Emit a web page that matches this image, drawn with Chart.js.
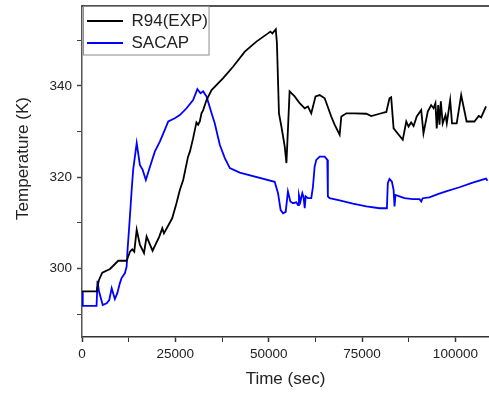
<!DOCTYPE html>
<html>
<head>
<meta charset="utf-8">
<script src="https://cdn.jsdelivr.net/npm/chart.js@4.4.1/dist/chart.umd.min.js"></script>
<style>
  html, body { margin: 0; padding: 0; background: #fff; }
  #wrap { width: 489px; height: 394px; }
</style>
</head>
<body>
<div id="wrap"><canvas id="myChart" width="489" height="394"></canvas></div>
<script>
// R94(EXP) measured temperature
var expTime = [0, 3900, 4550, 5430, 7500, 9700, 11950, 12850, 13450, 14000, 14650, 15500, 16600, 17300, 18900, 20700, 21500, 21950, 24150, 25300,
  26200, 27100, 28400, 28900, 29750, 30650, 31100, 31550, 32000, 32450, 33350, 34700, 37800, 40450, 43600, 46700, 49800, 50450, 51000, 51900,
  52200, 52750, 53400, 54300, 54750, 55150, 55600, 56950, 58300, 59650, 60500, 61400, 62550, 63650, 65000, 66750, 67650, 69000, 69450, 70800,
  73000, 76150, 77450, 79700, 81500, 82350, 82800, 83450, 85900, 86850, 87450, 88150, 88800, 89650, 90850, 91450, 92600, 93500, 94150, 94650,
  95000, 95400, 95750, 96100, 96600, 97350, 97700, 98600, 99100, 100350, 101550, 103000, 105100, 106250, 106900, 108200]
var expTemp = [295.0, 295.0, 297.5, 299.1, 299.9, 301.7, 301.7, 303.7, 304.2, 303.7, 308.5, 305.2, 303.4, 307.0, 303.9, 307.0, 308.8, 307.7, 311.0, 314.3,
  317.2, 319.4, 324.5, 325.6, 328.5, 332.0, 331.5, 332.2, 334.0, 334.7, 336.9, 339.1, 341.7, 344.2, 347.5, 349.7, 351.5, 351.9, 351.5, 352.4,
  349.4, 334.0, 331.1, 326.7, 323.1, 330.4, 338.8, 337.7, 336.2, 335.1, 335.5, 334.0, 337.7, 338.0, 337.3, 333.3, 331.5, 329.3, 333.3, 334.0,
  334.0, 333.9, 333.4, 333.9, 334.3, 337.3, 337.5, 330.7, 328.2, 332.2, 331.1, 332.0, 331.2, 333.3, 334.7, 329.6, 334.4, 335.8, 335.1, 336.2,
  330.7, 335.8, 331.5, 336.6, 331.8, 333.6, 331.8, 336.9, 331.8, 331.8, 338.0, 332.2, 332.2, 333.4, 333.1, 335.5]

// SACAP simulation
var sacapTime = [0, 200, 3900, 4150, 4550, 5550, 6600, 7300, 7950, 8800, 9450, 10150, 10600, 11500, 11950, 12200, 12650, 13300, 13700, 14650,
  15500, 16250, 17100, 18200, 19500, 20850, 22200, 23100, 24850, 26200, 28000, 29750, 30900, 31750, 32450, 33350, 34700, 35550, 36900, 38250,
  39600, 42250, 51600, 52500, 53200, 53850, 54550, 55150, 55800, 56500, 57400, 57850, 58100, 58500, 59000, 59350, 59650, 59900, 60500, 61400,
  61850, 62300, 62750, 63650, 65000, 65700, 65850, 66300, 69000, 72550, 76150, 79700, 81650, 81900, 82350, 83000, 83450, 83700, 83950, 85050,
  86350, 88600, 90400, 90850, 91250, 93050, 95300, 97500, 101100, 104650, 108200, 108600]
var sacapTemp = [295.0, 291.8, 291.8, 297.3, 295.0, 292.0, 292.4, 293.1, 295.7, 293.3, 294.6, 296.8, 297.9, 299.0, 300.4, 304.1, 309.2, 317.2, 321.6, 327.5,
  322.7, 321.6, 319.4, 322.3, 325.6, 327.8, 330.4, 332.2, 332.9, 333.6, 335.1, 336.9, 339.3, 338.4, 338.8, 337.7, 334.0, 331.8, 327.1, 324.2,
  322.0, 321.0, 319.0, 316.5, 312.8, 312.1, 312.4, 316.9, 314.7, 314.3, 314.5, 313.9, 316.1, 314.7, 316.5, 315.6, 313.2, 315.8, 315.4, 315.4,
  317.9, 322.3, 323.8, 324.5, 324.5, 323.8, 315.8, 315.4, 314.9, 314.2, 313.6, 313.2, 313.2, 318.7, 319.6, 319.0, 317.2, 313.6, 316.1, 315.8,
  315.4, 315.2, 315.2, 314.7, 315.4, 315.6, 316.3, 316.9, 317.8, 318.8, 319.7, 319.2]

var seriesNames = ['R94(EXP)', 'SACAP']
// tick positions (labelled ones are listed separately)
var xTicks = [0, 12500, 25000, 37500, 50000, 62500, 75000, 87500, 100000]
var xLabels = [0, 25000, 50000, 75000, 100000]
var yTicks = [290, 300, 310, 320, 330, 340, 350]
var yLabels = [300, 320, 340]
var xTitle = 'Time (sec)'
var yTitle = 'Temperature (K)'

var FONT = "'Liberation Sans', Arial, sans-serif"

function pares(xs, ys){
    return xs.map(function(x, i){ return {x: x, y: ys[i]} })
}

// legend sits inside the plot, just below the top frame
var legendPos = {
    id: 'legendPos',
    afterLayout: function(chart){
        var lg = chart.legend
        if (!lg) return
        var dy = chart.chartArea.top + 1.5 - lg.top
        lg.top += dy
        lg.bottom += dy
        if (lg.legendHitBoxes) lg.legendHitBoxes.forEach(function(h){ h.top += dy })
    }
}

// top frame line, legend border and y title
var extras = {
    id: 'extras',
    afterDraw: function(chart){
        var ctx = chart.ctx
        var a = chart.chartArea
        ctx.save()
        ctx.strokeStyle = '#1a1a1a'
        ctx.lineWidth = 1.5
        ctx.beginPath()
        ctx.moveTo(a.left, a.top)
        ctx.lineTo(a.right, a.top)
        ctx.stroke()

        var lg = chart.legend
        if (lg && lg.legendHitBoxes && lg.legendHitBoxes.length){
            var hb = lg.legendHitBoxes
            var right = 0
            hb.forEach(function(h){ right = Math.max(right, h.left + h.width) })
            var last = hb[hb.length - 1]
            var bottom = last.top + last.height + 3
            ctx.strokeStyle = '#8c8c8c'
            ctx.lineWidth = 1
            ctx.strokeRect(a.left + 1.5, a.top + 0.5, right + 1 - a.left - 1.5, bottom - a.top)
        }

        ctx.fillStyle = '#222'
        ctx.font = '17px ' + FONT
        ctx.textAlign = 'center'
        ctx.textBaseline = 'middle'
        ctx.translate(23.5, 158.5)
        ctx.rotate(-Math.PI / 2)
        ctx.fillText(yTitle, 0, 0)
        ctx.restore()
    }
}

function inicio(){
    var ctx = document.getElementById('myChart').getContext('2d')

    const myChart = new Chart(ctx, {
        type: 'line',
        data: {
            datasets: [{
                label: seriesNames[0],
                data: pares(expTime, expTemp),
                borderColor: '#000000',
                backgroundColor: '#000000',
                borderWidth: 1.8,
                pointRadius: 0,
                fill: false,
                tension: 0
            }, {
                label: seriesNames[1],
                data: pares(sacapTime, sacapTemp),
                borderColor: '#0000ff',
                backgroundColor: '#0000ff',
                borderWidth: 1.8,
                pointRadius: 0,
                fill: false,
                tension: 0
            }]
        },
        options: {
            responsive: false,
            animation: false,
            layout: { padding: { top: 6, right: 0, bottom: 0, left: 0 } },
            plugins: {
                tooltip: { enabled: false },
                legend: {
                    position: 'chartArea',
                    align: 'start',
                    labels: {
                        boxWidth: 36,
                        boxHeight: 2,
                        padding: 5,
                        color: '#222',
                        font: { size: 17, family: FONT },
                        generateLabels: function(chart){
                            return Chart.defaults.plugins.legend.labels.generateLabels(chart).map(function(l){
                                l.fillStyle = l.strokeStyle
                                l.lineWidth = 0
                                return l
                            })
                        }
                    }
                }
            },
            scales: {
                x: {
                    type: 'linear',
                    min: 0,
                    max: 109000,
                    afterBuildTicks: function(scale){
                        scale.ticks = xTicks.map(function(v){ return {value: v} })
                    },
                    afterFit: function(scale){
                        scale.height = 57
                        scale.paddingLeft = 0
                        scale.paddingRight = 0
                    },
                    border: { color: '#333', width: 1.5 },
                    grid: { drawOnChartArea: false, tickLength: 5, tickColor: '#333',
                        tickWidth: function(c){ return c.tick && xLabels.indexOf(c.tick.value) >= 0 ? 1.5 : 1 } },
                    ticks: {
                        autoSkip: false,
                        maxRotation: 0,
                        padding: 4,
                        color: '#222',
                        font: { size: 13.5, family: FONT },
                        callback: function(v){ return xLabels.indexOf(v) >= 0 ? String(v) : '' }
                    },
                    title: {
                        display: true,
                        text: xTitle,
                        color: '#222',
                        font: { size: 17, family: FONT },
                        padding: { top: 4, bottom: 4 }
                    }
                },
                y: {
                    min: 285,
                    max: 357.5,
                    afterBuildTicks: function(scale){
                        scale.ticks = yTicks.map(function(v){ return {value: v} })
                    },
                    afterFit: function(scale){
                        scale.width = 82
                        scale.paddingTop = 0
                        scale.paddingBottom = 0
                    },
                    border: { color: '#555', width: 1.5 },
                    grid: { drawOnChartArea: false, tickLength: 5, tickColor: '#444',
                        tickWidth: function(c){ return c.tick && yLabels.indexOf(c.tick.value) >= 0 ? 1.5 : 1 } },
                    ticks: {
                        autoSkip: false,
                        padding: 5,
                        color: '#222',
                        font: { size: 13.5, family: FONT },
                        callback: function(v){ return yLabels.indexOf(v) >= 0 ? String(v) : '' }
                    }
                }
            }
        },
        plugins: [legendPos, extras]
    })
}
window.onload = inicio
</script>
</body>
</html>
